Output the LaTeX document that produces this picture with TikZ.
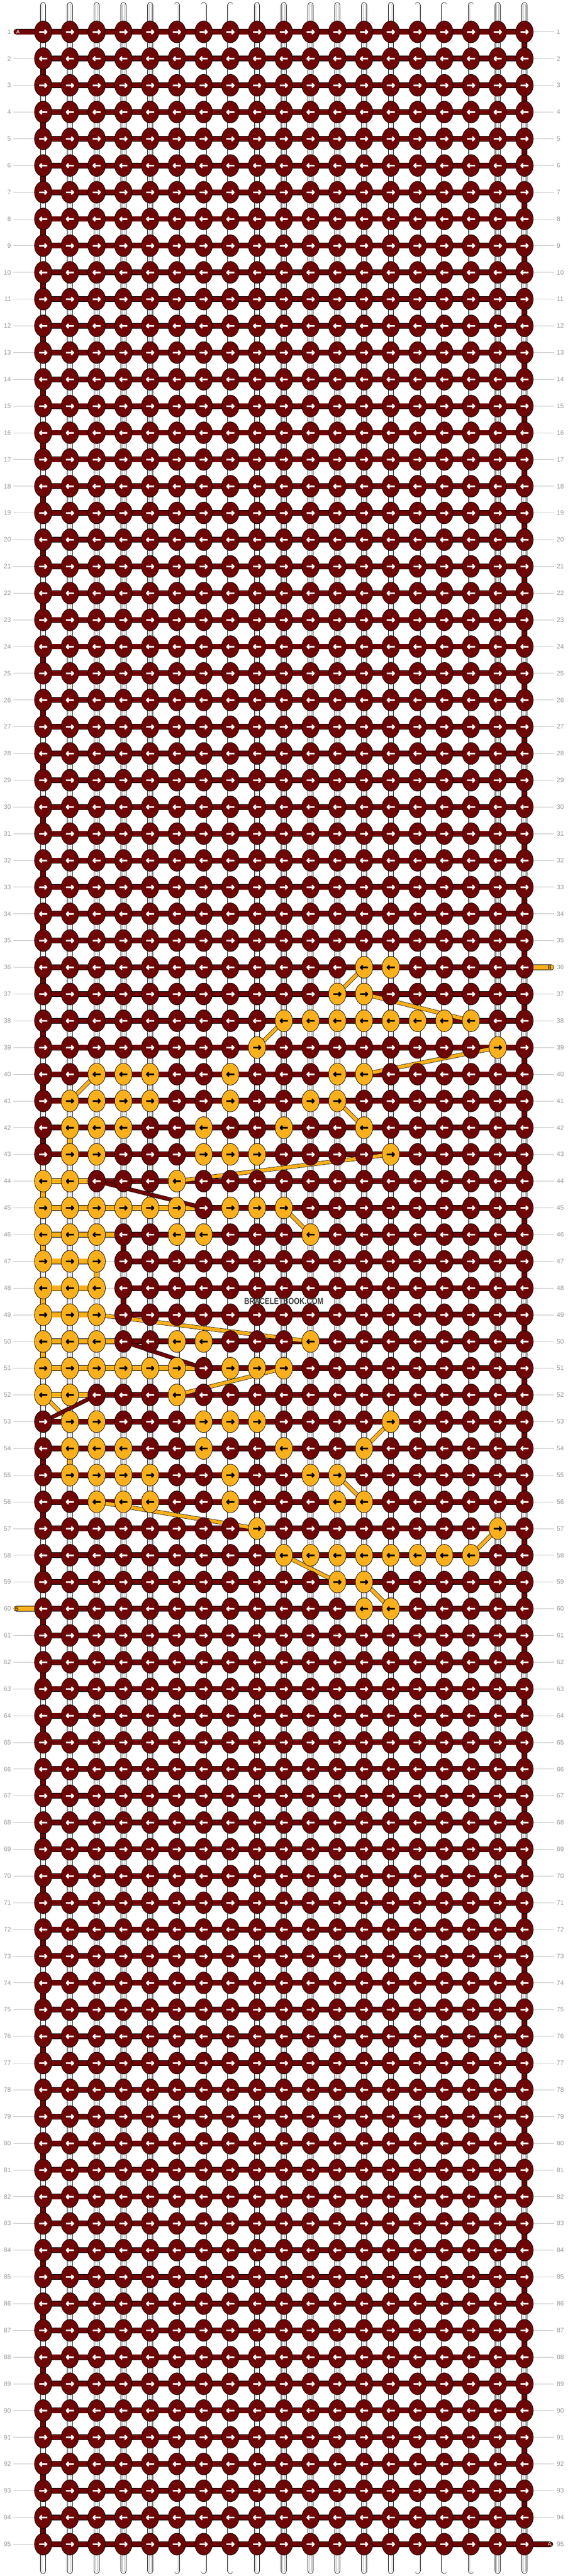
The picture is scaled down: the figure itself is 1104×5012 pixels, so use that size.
\documentclass[tikz,border=0pt]{standalone}
\usepackage{fontspec}
\setmainfont{Liberation Sans}
\newfontfamily\arrowfont{DejaVu Sans}[UprightFont={* Bold}, FakeBold=3.5]
\usetikzlibrary{shapes.geometric}

\definecolor{threadA}{RGB}{110,6,6}
\definecolor{threadB}{RGB}{250,176,28}
\definecolor{labelgray}{RGB}{153,153,153}
\definecolor{leadergray}{RGB}{192,192,192}
\definecolor{stringgray}{RGB}{185,185,185}
\definecolor{markgray}{RGB}{60,60,60}

\pgfdeclarelayer{strings}
\pgfdeclarelayer{threads}
\pgfsetlayers{strings,threads,main}

% knots tied with thread B (row/columns)
\def\knotsB{36/{13,14},37/{12,13},38/{10,11,12,13,14,15,16,17},39/{9,18},%
40/{3,4,5,8,12,13},41/{2,3,4,5,8,11,12},42/{2,3,4,7,10,13},43/{2,3,7,8,9,14},%
44/{1,2,6},45/{1,2,3,4,5,6,8,9,10},46/{1,2,3,6,7,11},47/{1,2,3},48/{1,2,3},%
49/{1,2,3},50/{1,2,3,6,7,11},51/{1,2,3,4,5,6,8,9,10},52/{1,2,6},%
53/{2,3,7,8,9,14},54/{2,3,4,7,10,13},55/{2,3,4,5,8,11,12},56/{3,4,5,8,12,13},%
57/{9,18},58/{10,11,12,13,14,15,16,17},59/{12,13},60/{13,14}}
% rows where the weft changes colour: row/last B knot/first A knot
\def\weftsplit{44/3/3,45/7/7,46/4/4,47/3/4,48/3/4,49/3/4,50/4/4,51/7/7,52/3/3}

\foreach \r/\cs in \knotsB{\foreach \c in \cs{\expandafter\gdef\csname kB-\r-\c\endcsname{}}}
\foreach \r/\ob/\ra in \weftsplit{\expandafter\gdef\csname wS-\r\endcsname{}}
\foreach \r in {44,46,48,50}{\expandafter\gdef\csname eB-\r\endcsname{}}
\expandafter\gdef\csname eX-52\endcsname{}

\begin{document}
\begin{tikzpicture}[x=1pt, y=-1pt,
    knot/.style={ellipse, draw=black, line width=0.8pt, minimum width=34pt, minimum height=42.6pt, inner sep=0pt,
      font=\arrowfont\fontsize{20.5}{20.5}\selectfont},
    weft/.style={draw=black, line width=0.8pt, double distance=9.4pt},
    edgeturn/.style={draw=black, line width=0.8pt, double distance=9.4pt},
    carry/.style={draw=black, line width=0.7pt, double distance=6.6pt},
    warp/.style={draw=black, line width=0.8pt, double=white, double distance=9.4pt, line cap=round},
    warpline/.style={draw=stringgray, line width=0.6pt, double=white, double distance=3.6pt, line cap=round},
    leader/.style={draw=leadergray, line width=0.8pt},
    rowlabel/.style={inner sep=0pt, text=labelgray, font=\fontsize{12.5}{12.5}\selectfont},
    endlabel/.style={inner sep=0pt, font=\fontsize{10.5}{10.5}\selectfont}]

  \useasboundingbox (0,0) rectangle (1104,5012);

  % knots
  \foreach \r in {1,...,95}{
    \ifodd\r \def\way{\raisebox{-1.1pt}[\height][\depth]{→}}\else\def\way{\raisebox{-1.1pt}[\height][\depth]{←}}\fi
    \foreach \c in {1,...,19}{
      \ifcsname kB-\r-\c\endcsname\def\kfill{threadB}\def\kink{black}\else\def\kfill{threadA}\def\kink{white}\fi
      \node[knot, fill=\kfill, text=\kink] (k-\r-\c) at (32+52*\c, 10+52*\r) {\way};
    }
  }

  % row numbers
  \foreach \r in {1,...,95}{
    \node[rowlabel, anchor=east] (ll-\r) at (21.5, 10+52*\r) {\r};
    \node[rowlabel, anchor=west] (lr-\r) at (1082.5, 10+52*\r) {\r};
  }

  \begin{pgfonlayer}{strings}
    \foreach \c in {1,...,19}{
      \coordinate (top-\c) at (32+52*\c, 10);
      \coordinate (bot-\c) at (32+52*\c, 5002);
      \draw[warp] (top-\c) -- (bot-\c);
      \draw[warpline] (top-\c) -- (bot-\c);
    }
    \foreach \r in {1,...,95}
      \draw[leader] ([xshift=4.5]ll-\r.east) -- ([xshift=-4.5]lr-\r.west);
  \end{pgfonlayer}

  \begin{pgfonlayer}{threads}
    % weft along each row
    \foreach \r in {1,...,95}{
      \ifcsname wS-\r\endcsname\else
        \draw[weft, double=threadA] (k-\r-1.center) -- (k-\r-19.center);
      \fi
    }
    \foreach \r/\ob/\ra in \weftsplit{
      \draw[weft, double=threadB] (k-\r-1.center) -- (k-\r-\ob.center);
      \draw[weft, double=threadA] (k-\r-\ra.center) -- (k-\r-19.center);
    }
    % turns at the edges
    \foreach \r [evaluate=\r as \n using int(\r+1)] in {2,4,...,94}{
      \ifcsname eX-\r\endcsname\else
        \ifcsname eB-\r\endcsname\def\tcol{threadB}\else\def\tcol{threadA}\fi
        \draw[edgeturn, double=\tcol] (k-\r-1.center) -- (k-\n-1.center);
      \fi
    }
    \foreach \r [evaluate=\r as \n using int(\r+1)] in {1,3,...,93}
      \draw[edgeturn, double=threadA] (k-\r-19.center) -- (k-\n-19.center);
    \draw[edgeturn, double=threadB] (k-42-2.center) -- (k-43-2.center);
    \draw[edgeturn, double=threadB] (k-54-2.center) -- (k-55-2.center);
    \draw[edgeturn, double=threadB] (k-47-3.center) -- (k-48-3.center);
    \draw[edgeturn, double=threadA] (k-46-4.center) -- (k-47-4.center);
    \draw[edgeturn, double=threadA] (k-48-4.center) -- (k-49-4.center);

    % threads carried behind
    \foreach \ra/\ca/\rb/\cb in {37/12/36/13,37/13/38/17,39/9/38/10,39/18/40/13,41/2/40/3,
        41/12/42/13,43/14/44/6,45/10/46/11,49/3/50/11,51/10/52/6,52/1/53/2,53/14/54/13,
        55/12/56/13,56/3/57/9,57/18/58/17,58/10/59/12,59/13/60/14}
      \draw[carry, double=threadB] (k-\ra-\ca.center) -- (k-\rb-\cb.center);
    \foreach \ra/\ca/\rb/\cb in {44/3/45/7,50/4/51/7,52/3/53/1}
      \draw[carry, double=threadA] (k-\ra-\ca.center) -- (k-\rb-\cb.center);

    % loose ends
    \coordinate (A-in) at (32,62);
    \coordinate (A-out) at (1070,4950);
    \coordinate (B-in) at (1072,1882);
    \coordinate (B-out) at (32,3130);
    \draw[weft, double=threadA, line cap=round] (A-in) -- (k-1-1.center);
    \draw[weft, double=threadA, line cap=round] (k-95-19.center) -- (A-out);
    \draw[weft, double=threadB, line cap=round] (k-36-19.center) -- (B-in);
    \draw[weft, double=threadB, line cap=round] (B-out) -- (k-60-1.center);
  \end{pgfonlayer}

  \node[endlabel, text=white] (A-name-in) at (35,62) {A};
  \node[endlabel, text=white] (A-name-out) at (1069,4950) {A};
  \node[endlabel, text=black] (B-name-in) at (1069,1882) {B};
  \node[endlabel, text=black] (B-name-out) at (33,3130) {B};

  \node[text=markgray, font=\bfseries\fontsize{17}{17}\selectfont, inner sep=0pt, xscale=0.82, transform shape] (mark) at (552,2532) {BRACELETBOOK.COM};
\end{tikzpicture}
\end{document}
